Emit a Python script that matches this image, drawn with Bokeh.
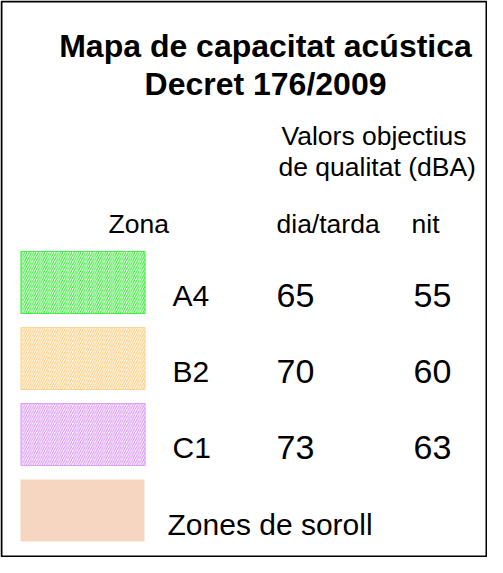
from bokeh.plotting import figure
from bokeh.models import Range1d, ColumnDataSource
from bokeh.core.properties import value
from bokeh.embed import file_html
from bokeh.resources import INLINE

title_lines = ["Mapa de capacitat acústica", "Decret 176/2009"]
header_lines = ["Valors objectius", "de qualitat (dBA)"]
col_labels = ["Zona", "dia/tarda", "nit"]
zones = ["A4", "B2", "C1"]
dia_tarda = [65, 70, 73]
nit = [55, 60, 63]
hatch_colors = ["#22e822", "#ffc468", "#d488f5"]
edge_colors = ["#44f044", "#ffd595", "#dca0f8"]
noise_label = "Zones de soroll"
noise_color = "#f6d6c1"

FONT = value("Liberation Sans")

W, H = 487, 557
p = figure(width=W, height=H, output_backend="svg", toolbar_location=None,
           x_range=Range1d(8, 8 + W), y_range=Range1d(8 + H, 8),
           min_border=0)
p.axis.visible = False
p.grid.visible = False
p.outline_line_color = None
p.background_fill_color = "white"
p.border_fill_color = "white"

# frame
p.quad(left=[9], right=[494], top=[9], bottom=[564], fill_color=None,
       line_color="black", line_width=2)

# title
p.text(x=[273, 273], y=[53, 91], text=title_lines, text_align="center",
       text_baseline="alphabetic", text_font=FONT, text_font_size=value("32px"),
       text_font_style="bold", text_color="black")

# header
p.text(x=[289, 286], y=[143, 174], text=header_lines, text_align="left",
       text_baseline="alphabetic", text_font=FONT, text_font_size=value("26.5px"),
       text_color="black")
p.text(x=[116, 284, 419], y=[231, 231, 231], text=col_labels, text_align="left",
       text_baseline="alphabetic", text_font=FONT, text_font_size=value("26.5px"),
       text_color="black")

# rows
row0, step = 290, 76
rows_y = [row0 + i * step for i in range(len(zones))]
src = ColumnDataSource(dict(
    y=rows_y, zone=zones,
    dia=[str(v) for v in dia_tarda], nit=[str(v) for v in nit],
    hc=hatch_colors, ec=edge_colors,
    base=[y + 13 for y in rows_y],
))
p.rect(x=90.5, y="y", width=124, height=62, source=src, fill_color="white",
       line_color="ec", line_width=1.2, hatch_pattern="/", hatch_color="hc",
       hatch_scale=4.5, hatch_weight=1)
p.text(x=180, y="base", text="zone", source=src, text_baseline="alphabetic",
       text_font=FONT, text_font_size=value("30px"), text_color="black")
p.text(x=284, y="base", text="dia", source=src, text_baseline="alphabetic",
       text_font=FONT, text_font_size=value("34px"), text_color="black")
p.text(x=421, y="base", text="nit", source=src, text_baseline="alphabetic",
       text_font=FONT, text_font_size=value("34px"), text_color="black")

# noise zones
ny = row0 + len(zones) * step
p.rect(x=[90], y=[ny], width=124, height=62, fill_color=noise_color, line_color=None)
p.text(x=[175], y=[ny + 14], text=[noise_label], text_baseline="alphabetic",
       text_font=FONT, text_font_size=value("30px"), text_color="black")

open("out.html", "w").write(file_html(p, INLINE))
